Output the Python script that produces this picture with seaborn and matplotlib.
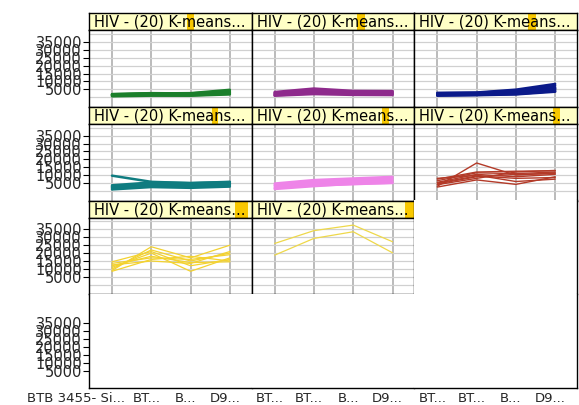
import matplotlib
matplotlib.use("Agg")
import matplotlib.pyplot as plt
from matplotlib.patches import Rectangle
from matplotlib.transforms import ScaledTranslation
import pandas as pd
import seaborn as sns

sns.set_style("white")
plt.rcParams["font.family"] = ["DejaVu Sans"]

# ---- data -------------------------------------------------------------
categories = ["BTB 3455- Si...", "BT...", "B...", "D9..."]
short_first = "BT..."
y_ticks = [5000, 10000, 15000, 20000, 25000, 30000, 35000]
y_grid_extra = [0, 40000]
panel_title = "HIV - (20) K-means..."

green_profiles = [
    [900, 1300, 1200, 2200],
    [1300, 1800, 1700, 2900],
    [1700, 2300, 2100, 3500],
    [1100, 1600, 1400, 2600],
    [2000, 2600, 2400, 4000],
    [1500, 2100, 1900, 3200],
    [600, 1000, 1000, 1800],
    [1900, 2400, 2600, 4700],
]
purple_profiles = [
    [1200, 2500, 2000, 1800],
    [2000, 3500, 2800, 2600],
    [2800, 4800, 3600, 3400],
    [1600, 3000, 2400, 2200],
    [3300, 5500, 4000, 3900],
    [2400, 4200, 3200, 3000],
    [1000, 2000, 1500, 1400],
]
navy_profiles = [
    [1000, 1300, 1800, 3500],
    [1500, 1800, 2500, 4800],
    [2000, 2300, 3300, 6000],
    [2500, 2800, 4200, 7200],
    [1200, 1500, 2000, 4000],
    [2800, 3000, 4800, 8400],
    [1800, 2000, 2800, 5500],
]
teal_profiles = [
    [1500, 3000, 2800, 3200],
    [2200, 3800, 3500, 4000],
    [3000, 4600, 4200, 4800],
    [3600, 5400, 5000, 5800],
    [1000, 2500, 2000, 2800],
    [2600, 4200, 3800, 4400],
    [9700, 5800, 5000, 5600],
]
pink_profiles = [
    [1200, 3000, 4500, 5000],
    [2000, 4000, 5200, 6000],
    [3000, 5000, 6000, 7000],
    [4000, 6200, 7000, 8200],
    [4800, 7000, 8000, 9000],
    [1800, 3500, 4200, 5200],
    [3500, 5500, 6500, 7500],
]
red_profiles = [
    [3000, 17700, 10000, 11500],
    [4000, 8000, 12000, 13000],
    [5500, 10500, 9000, 10500],
    [6500, 11500, 11000, 12000],
    [7500, 12000, 12500, 12800],
    [2500, 7000, 4200, 9000],
    [5000, 9500, 8000, 8500],
    [8000, 10000, 6000, 7500],
    [4500, 9000, 10500, 11000],
]
yellow_profiles = [
    [9000, 24000, 17000, 25000],
    [10000, 22000, 15000, 20000],
    [11000, 20000, 8500, 17000],
    [12000, 18000, 14000, 14500],
    [13500, 17000, 16000, 19000],
    [14500, 21000, 12000, 16000],
    [8500, 16000, 18000, 15000],
    [12500, 15000, 13500, 21000],
]
gold_profiles = [
    [26100, 34200, 37700, 27200],
    [18700, 29300, 33500, 20200],
]

panel_profiles = [green_profiles, purple_profiles, navy_profiles,
                  teal_profiles, pink_profiles, red_profiles,
                  yellow_profiles, gold_profiles]
panel_colors = ["#1b7f2b", "#8e2a8c", "#0b1a8a", "#0f7c80",
                "#ee84e8", "#b33a28", "#f3d230", "#eed84a"]
panel_lw = [1.8, 1.8, 1.8, 1.8, 1.6, 1.0, 0.9, 0.9]
# marker bar in each title strip: (start, width) as fractions of the strip
title_marks = [(0.60, 0.045), (0.65, 0.045), (0.70, 0.045), (0.755, 0.04),
               (0.80, 0.045), (0.85, 0.045), (0.895, 0.08), (0.945, 0.05)]

records = []
for p, profiles in enumerate(panel_profiles):
    for m, vals in enumerate(profiles):
        for k, v in enumerate(vals):
            records.append({"panel": p, "member": m, "pos": k, "value": v})
df = pd.DataFrame(records)

# ---- layout (pixels) --------------------------------------------------
W, H = 579, 405
LEFT, RIGHT, TOP, BOTTOM = 89, 577, 13, 388
NCOLS, NROWS = 3, 4
COL_W = (RIGHT - LEFT) / NCOLS
ROW_H = (BOTTOM - TOP) / NROWS
HEAD = 17
YLIM = (-6000, 42500)
XLIM = (-0.585, 3.555)
FS = 10.5


def fig_rect(x0, y0, w, h):
    return [x0 / W, 1 - (y0 + h) / H, w / W, h / H]


fig = plt.figure(figsize=(W / 100, H / 100), dpi=100)
fig.patch.set_facecolor("white")


def style_spines(ax, lw=1.0, which=("left", "right", "top", "bottom")):
    for name, sp in ax.spines.items():
        sp.set_visible(name in which)
        sp.set_color("black")
        sp.set_linewidth(lw)


def y_axis(ax, show):
    ax.set_yticks(y_ticks)
    ax.set_yticks(y_grid_extra, minor=True)
    if show:
        ax.set_yticklabels([str(v) for v in y_ticks], fontsize=FS)
        ax.tick_params(axis="y", which="major", length=4, width=0.8,
                       pad=1, direction="out", left=True, color="black")
    else:
        ax.set_yticklabels([])
        ax.tick_params(axis="y", which="major", length=0)
    ax.tick_params(axis="y", which="minor", length=0)


for r in range(NROWS):
    for c in range(NCOLS):
        idx = r * NCOLS + c
        x0 = LEFT + c * COL_W
        y0 = TOP + r * ROW_H
        if idx < len(panel_profiles):
            # title strip
            hax = fig.add_axes(fig_rect(x0, y0, COL_W, HEAD))
            hax.set_facecolor("#ffffc6")
            hax.set_xticks([])
            hax.set_yticks([])
            hax.set_xlim(0, 1)
            hax.set_ylim(0, 1)
            style_spines(hax, 1.0)
            ms, mw = title_marks[idx]
            hax.add_patch(Rectangle((ms, 0), mw, 1, color="#f8c800", lw=0))
            hax.text(5 / COL_W, 0.47, panel_title, fontsize=FS, ha="left",
                     va="center", color="black", clip_on=True)

            # profile panel
            ax = fig.add_axes(fig_rect(x0, y0 + HEAD, COL_W, ROW_H - HEAD))
            sub = df[df["panel"] == idx]
            sns.lineplot(data=sub, x="pos", y="value", units="member",
                         estimator=None, color=panel_colors[idx],
                         linewidth=panel_lw[idx], legend=False, ax=ax)
            ax.set_xlim(*XLIM)
            ax.set_ylim(*YLIM)
            ax.set_xlabel("")
            ax.set_ylabel("")
            ax.set_xticks(range(len(categories)))
            ax.set_xticklabels([])
            ax.tick_params(axis="x", length=0)
            y_axis(ax, c == 0)
            ax.set_axisbelow(True)
            ax.grid(axis="x", color="#b5b5b5", linewidth=1.3)
            ax.grid(axis="y", which="both", color="#d0d0d0", linewidth=0.9)
            style_spines(ax, 1.0)
        elif r == NROWS - 1:
            # bottom row: empty trellis cells carrying the shared axes
            ax = fig.add_axes(fig_rect(x0, y0, COL_W, ROW_H))
            per_px = (YLIM[1] - YLIM[0]) / (ROW_H - HEAD)
            ax.set_ylim(YLIM[0], YLIM[1] + HEAD * per_px)
            ax.set_xlim(*XLIM)
            ax.set_xticks(range(len(categories)))
            labels = categories if c == 0 else [short_first] + categories[1:]
            ax.set_xticklabels(labels, fontsize=9.5)
            ax.tick_params(axis="x", length=2.5, width=0.8, pad=0.5,
                           direction="out", color="black")
            for k, lab in enumerate(ax.get_xticklabels()):
                if c == 0 and k == 0:
                    lab.set_ha("right")
                    dx = 13
                else:
                    dx = -5
                lab.set_transform(lab.get_transform() +
                                  ScaledTranslation(dx / 100, 0,
                                                    fig.dpi_scale_trans))
            y_axis(ax, c == 0)
            which = ["bottom"]
            if c == 0:
                which.append("left")
            if c == NCOLS - 1:
                which.append("right")
            style_spines(ax, 1.0, which)
        else:
            # empty cell beside the last panel: only the outer frame
            ax = fig.add_axes(fig_rect(x0, y0, COL_W, ROW_H))
            ax.set_xticks([])
            ax.set_yticks([])
            style_spines(ax, 1.0, ["right"])

fig.savefig("out.png", dpi=100, facecolor="white")
